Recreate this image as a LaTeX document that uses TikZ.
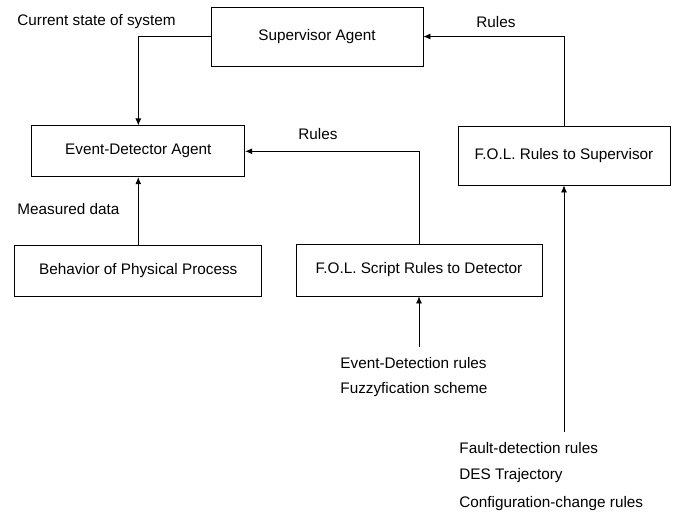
\documentclass[tikz,border=0pt]{standalone}
\usepackage{fontspec}
\setmainfont{Liberation Sans}
\usepackage{tikz}
\usetikzlibrary{arrows,arrows.meta,positioning,calc}
\tikzset{%
	agent/.style = {draw, rectangle, minimum width=212pt, minimum height=59pt, text centered},
	block/.style = {draw, rectangle, minimum width=246pt, minimum height=52pt, text centered},
	note/.style  = {anchor=west, inner sep=0pt},
	flow/.style  = {line width=0.8pt,-{Latex[length=7pt,width=6pt]}},
}

\begin{document}
\begin{tikzpicture}[x=1pt,y=-1pt,font=\fontsize{15.3}{18}\selectfont,line width=0.8pt]
	\useasboundingbox (0,0) rectangle (676,515);
	\node[agent] (sup) at (317,36.5) {Supervisor Agent};
	\node[agent, minimum width=213pt, minimum height=51pt] (det) at (138.3,151.3) {Event-Detector Agent};
	\node[agent] (fsup) at (564,155.5) {F.O.L. Rules to Supervisor};
	\node[block, minimum width=247pt, minimum height=51pt] (beh) at (138.3,270.5) {Behavior of Physical Process};
	\node[block] (fdet) at (419,270) {F.O.L. Script Rules to Detector};
	\coordinate (evsrc) at (419,347);
	\coordinate (fsrc) at (564,432);
	% connectors
	\draw[flow] (sup.west) -| (det.north);
	\draw[flow] (fsup.north) |- (sup.east);
	\draw[flow] (fdet.north) |- (det.east);
	\draw[flow] (beh.north) -- (det.south);
	\draw[flow] (evsrc) -- (fdet.south);
	\draw[flow] (fsrc) -- (fsup.south);
	% labels
	\node[note] (lcur) at (17,22) {Current state of system};
	\node[note] (lrsup) at (476,22) {Rules};
	\node[note] (lrdet) at (298,134) {Rules};
	\node[note] (lmeas) at (17,209) {Measured data};
	\node[note] (lev) at (340,363) {Event-Detection rules};
	\node[note] (lfuz) at (340,390) {Fuzzyfication scheme};
	\node[note] (lfault) at (459,448) {Fault-detection rules};
	\node[note] (ldes) at (459,476) {DES Trajectory};
	\node[note] (lconf) at (459,504) {Configuration-change rules};
\end{tikzpicture}
\end{document}
